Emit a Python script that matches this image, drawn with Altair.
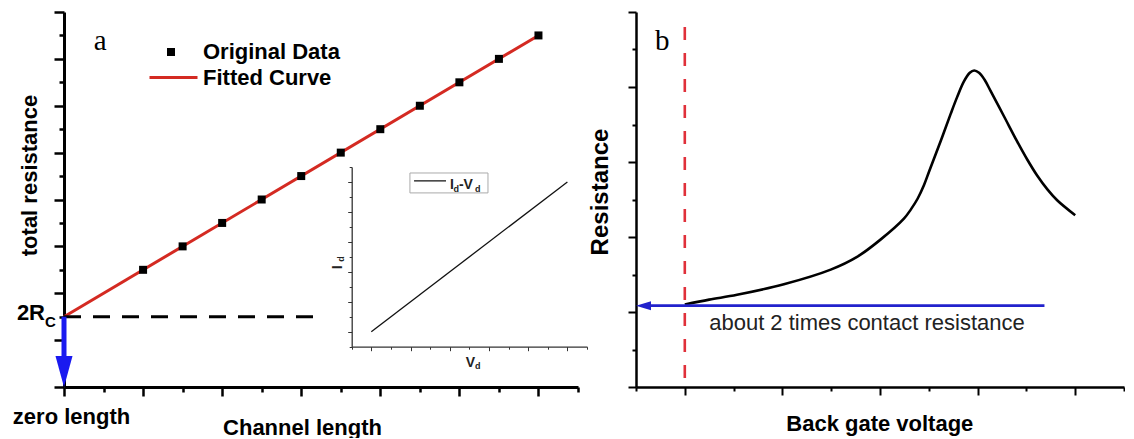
import altair as alt
import pandas as pd

FONT = "Liberation Sans"
SERIF = "Liberation Serif"

# ---------------- Panel a data ----------------
channel_len = [2, 3, 4, 5, 6, 7, 8, 9, 10, 11, 12]
total_res = [5, 6, 7, 8, 9, 10, 11, 12, 13, 14, 15]
fit_len = [0, 12]
fit_res = [3, 15]
rc_level = 3
dash_len = [0, 6.4]
arrow_a_y = [3, 1.2]
# inset I-V
inset_v = [1, 11]
inset_i = [1, 11]

# ---------------- Panel b data ----------------
gate_v = [1.0, 1.5, 2.07, 3.03, 3.99, 4.53, 5.01, 5.49, 5.63, 5.77, 5.9, 6.01, 6.25, 6.45,
          6.58, 6.72, 6.84, 6.93, 7.03, 7.14, 7.26, 7.54, 7.81, 8.02, 8.22, 8.43, 8.63, 9.0]
resistance = [2.2, 2.33, 2.46, 2.74, 3.13, 3.47, 3.93, 4.49, 4.73, 5.02, 5.38, 5.76, 6.58, 7.29,
              7.73, 8.15, 8.38, 8.44, 8.38, 8.2, 7.91, 7.22, 6.55, 6.06, 5.64, 5.27, 4.98, 4.58]
contact_level = 2.17
vline_x = 1
vline_top = 9.6
arrow_b_x = [8.37, 0.2]

W_A, W_B, H = 514, 488, 375

def tick_cond(test, big, small):
    return {"condition": {"test": test, "value": big}, "value": small}

# ---------------- scales / axes panel a ----------------
axA_x = alt.Axis(values=list(range(14)), title="Channel length", titleFont=FONT, titleFontSize=22,
                 titleFontWeight="bold", titleColor="black", titleX=238, titleY=47,
                 titleBaseline="alphabetic", titleAlign="center",
                 domainWidth=3, domainColor="black", tickColor="black", tickWidth=2.5,
                 tickSize=tick_cond("datum.value % 2 == 0", 9, 5),
                 labelExpr="datum.value == 0 ? 'zero length' : ''", labelFont=FONT, labelFontSize=22,
                 labelFontWeight="bold", labelColor="black", labelFlush=False, labelOverlap=False,
                 labelBaseline="alphabetic", labelPadding=27, labelOffset=7, grid=False)
axA_y = alt.Axis(values=list(range(17)), title="total resistance", titleFont=FONT, titleFontSize=22,
                 titleFontWeight="bold", titleColor="black", titleX=-28, titleY=163, titleAngle=270,
                 titleBaseline="alphabetic", titleAlign="center",
                 domainWidth=3, domainColor="black", tickColor="black", tickWidth=2.5,
                 tickSize=tick_cond("datum.value % 2 == 0", 10, 5), labels=False, grid=False)
XA = alt.X("x:Q", scale=alt.Scale(domain=[0, 13], nice=False, zero=False), axis=axA_x)
YA = alt.Y("y:Q", scale=alt.Scale(domain=[0, 16], nice=False, zero=False), axis=axA_y)

pts = pd.DataFrame({"x": channel_len, "y": total_res, "kind_pt": "Original Data"})
fit = pd.DataFrame({"x": fit_len, "y": fit_res, "kind_ln": "Fitted Curve"})

fit_line = alt.Chart(fit).mark_line(strokeWidth=3).encode(
    x=XA, y=YA,
    color=alt.Color("kind_ln:N", scale=alt.Scale(domain=["Fitted Curve"], range=["#d42a22"]),
                    legend=alt.Legend(orient="none", legendX=84, legendY=40, title=None, padding=0,
                                      symbolType="stroke", symbolSize=2304, symbolStrokeWidth=3,
                                      labelFont=FONT, labelFontSize=22, labelFontWeight="bold",
                                      labelColor="black", labelOffset=4, labelLimit=300)))
data_pts = alt.Chart(pts).mark_point(filled=True, size=64, color="black", opacity=1).encode(
    x=XA, y=YA,
    shape=alt.Shape("kind_pt:N", scale=alt.Scale(domain=["Original Data"], range=["square"]),
                    legend=alt.Legend(orient="none", legendX=96, legendY=29, title=None, padding=0,
                                      symbolSize=64, symbolFillColor="black", symbolStrokeColor="black",
                                      symbolStrokeWidth=0, symbolOpacity=1,
                                      labelFont=FONT, labelFontSize=22, labelFontWeight="bold",
                                      labelColor="black", labelOffset=21, labelLimit=300)))

dash_df = pd.DataFrame({"x": [dash_len[0]], "x2": [dash_len[1]], "y": [rc_level]})
dash_rule = alt.Chart(dash_df).mark_rule(color="black", strokeWidth=3, strokeDash=[17, 12]).encode(
    x=XA, x2=alt.X2("x2:Q"), y=YA)

shaft_df = pd.DataFrame({"x": [0], "y": [arrow_a_y[0]], "y2": [arrow_a_y[1]]})
shaft_a = alt.Chart(shaft_df).mark_rule(color="#1a1af0", strokeWidth=5).encode(
    x=XA, y=YA, y2=alt.Y2("y2:Q"))
head_a_df = pd.DataFrame({"x": [0], "y": [0]})
head_a = alt.Chart(head_a_df).mark_point(shape="M 0 0 L -0.55 -2 L 0.55 -2 Z", size=961, filled=True,
                                         color="#1a1af0", opacity=1).encode(x=XA, y=YA)

def text_at(xv, yv, txt, X, Y, **kw):
    df = pd.DataFrame({"x": [xv], "y": [yv]})
    return alt.Chart(df).mark_text(text=txt, **kw).encode(x=X, y=Y)

rc_main = text_at(0, rc_level, "2R", XA, YA, font=FONT, fontSize=22, fontWeight="bold", color="black",
                  align="right", baseline="alphabetic", dx=-19, dy=3.5)
rc_sub = text_at(0, rc_level, "C", XA, YA, font=FONT, fontSize=15, fontWeight="bold", color="black",
                 align="left", baseline="alphabetic", dx=-19, dy=10)
lab_a = text_at(0.75, 14.38, "a", XA, YA, font=SERIF, fontSize=29, color="black",
                align="left", baseline="alphabetic")

main_a = alt.layer(fit_line, data_pts, dash_rule, shaft_a, head_a, rc_main, rc_sub, lab_a)

# ---------------- inset ----------------
axI_x = alt.Axis(values=list(range(13)), orient="bottom", offset=-40.3, title="V", titleFont=FONT,
                 titleFontSize=14, titleFontWeight="bold", titleColor="#222", titleX=406, titleY=20,
                 titleBaseline="alphabetic", titleAlign="center",
                 domainWidth=1.3, domainColor="#333", tickColor="#333", tickWidth=1,
                 tickSize=tick_cond("datum.value % 2 == 1", 4, 2.5), labels=False, grid=False)
axI_y = alt.Axis(values=list(range(13)), orient="left", offset=-287.7, title="I", titleFont=FONT,
                 titleFontSize=14, titleFontWeight="bold", titleColor="#222", titleX=-10.7, titleY=254.7,
                 titleAngle=270, titleBaseline="alphabetic", titleAlign="center",
                 domainWidth=1.3, domainColor="#333", tickColor="#333", tickWidth=1,
                 tickSize=tick_cond("datum.value % 2 == 1", 4, 2.5), labels=False, grid=False)
XI = alt.X("x:Q", scale=alt.Scale(domain=[0, 12], range=[287.7, 523], nice=False, zero=False), axis=axI_x)
YI = alt.Y("y:Q", scale=alt.Scale(domain=[0, 12], range=[334.7, 155], nice=False, zero=False), axis=axI_y)

iv = pd.DataFrame({"x": inset_v, "y": inset_i})
iv_line = alt.Chart(iv).mark_line(color="#111", strokeWidth=1.3).encode(x=XI, y=YI)

box_df = pd.DataFrame({"x": [2.97], "x2": [6.95], "y": [10.27], "y2": [11.6]})
box = alt.Chart(box_df).mark_rect(fill="white", stroke="#aaa", strokeWidth=1).encode(
    x=XI, x2=alt.X2("x2:Q"), y=YI, y2=alt.Y2("y2:Q"))
key_df = pd.DataFrame({"x": [3.18], "x2": [4.81], "y": [11.07]})
key = alt.Chart(key_df).mark_rule(color="#111", strokeWidth=1.3).encode(x=XI, x2=alt.X2("x2:Q"), y=YI)

big = dict(font=FONT, fontSize=14, fontWeight="bold", color="#222", align="left", baseline="alphabetic")
small = dict(font=FONT, fontSize=9, fontWeight="bold", color="#222", align="left", baseline="alphabetic")
k1 = text_at(5.01, 10.53, "I", XI, YI, **big)
k2 = text_at(5.01, 10.53, "d", XI, YI, dx=3.5, dy=3, **small)
k3 = text_at(5.01, 10.53, "-V", XI, YI, dx=9, **big)
k4 = text_at(5.01, 10.53, "d", XI, YI, dx=25, dy=3, **small)
vsub = text_at(6.29, -1.49, "d", XI, YI, **small)
isub = text_at(-0.39, 5.86, "d", XI, YI, font=FONT, fontSize=9, fontWeight="bold", color="#222",
               align="center", baseline="alphabetic", angle=270)

inset = alt.layer(iv_line, box, key, k1, k2, k3, k4, vsub, isub)

panel_a = alt.layer(main_a, inset).resolve_scale(x="independent", y="independent").properties(
    width=W_A, height=H)

# ---------------- Panel b ----------------
axB_x = alt.Axis(values=list(range(11)), title="Back gate voltage", titleFont=FONT, titleFontSize=22,
                 titleFontWeight="bold", titleColor="black", titleX=243.3, titleY=43,
                 titleBaseline="alphabetic", titleAlign="center",
                 domainWidth=2.5, domainColor="black", tickColor="black", tickWidth=2,
                 tickSize=tick_cond("datum.value % 2 == 1", 8, 4), labels=False, grid=False)
axB_y = alt.Axis(values=list(range(11)), title="Resistance", titleFont=FONT, titleFontSize=24,
                 titleFontWeight="bold", titleColor="black", titleX=-28.5, titleY=179.5, titleAngle=270,
                 titleBaseline="alphabetic", titleAlign="center",
                 domainWidth=2.5, domainColor="black", tickColor="black", tickWidth=2,
                 tickSize=tick_cond("datum.value % 2 == 0", 8, 4), labels=False, grid=False)
XB = alt.X("x:Q", scale=alt.Scale(domain=[0, 10], nice=False, zero=False), axis=axB_x)
YB = alt.Y("y:Q", scale=alt.Scale(domain=[0, 10], nice=False, zero=False), axis=axB_y)

curve_df = pd.DataFrame({"x": gate_v, "y": resistance})
curve = alt.Chart(curve_df).mark_line(color="black", strokeWidth=2.6, interpolate="catmull-rom").encode(
    x=XB, y=YB)

vl_df = pd.DataFrame({"x": [vline_x], "y": [vline_top], "y2": [0]})
vline = alt.Chart(vl_df).mark_rule(color="#e0303a", strokeWidth=2.6, strokeDash=[13, 13]).encode(
    x=XB, y=YB, y2=alt.Y2("y2:Q"))

hl_df = pd.DataFrame({"x": [arrow_b_x[0]], "x2": [arrow_b_x[1]], "y": [contact_level]})
hline = alt.Chart(hl_df).mark_rule(color="#2222cc", strokeWidth=2.6).encode(
    x=XB, x2=alt.X2("x2:Q"), y=YB)
head_b_df = pd.DataFrame({"x": [0], "y": [contact_level]})
head_b = alt.Chart(head_b_df).mark_point(shape="M 0 0 L 2 -0.6 L 2 0.6 Z", size=225, filled=True,
                                         color="#2222cc", opacity=1).encode(x=XB, y=YB)

note = text_at(1.5, 1.52, "about 2 times contact resistance", XB, YB, font=FONT, fontSize=22,
               color="#222", align="left", baseline="alphabetic")
lab_b = text_at(0.39, 8.99, "b", XB, YB, font=SERIF, fontSize=29, color="black",
                align="left", baseline="alphabetic")

panel_b = alt.layer(vline, curve, hline, head_b, note, lab_b).properties(width=W_B, height=H)

chart = alt.hconcat(panel_a, panel_b, spacing=0).properties(
    padding={"left": 4, "top": 2, "right": 0, "bottom": 0}, background="white"
).configure_view(stroke=None)

chart.save("out.html", embed_options={"renderer": "svg", "actions": False})
